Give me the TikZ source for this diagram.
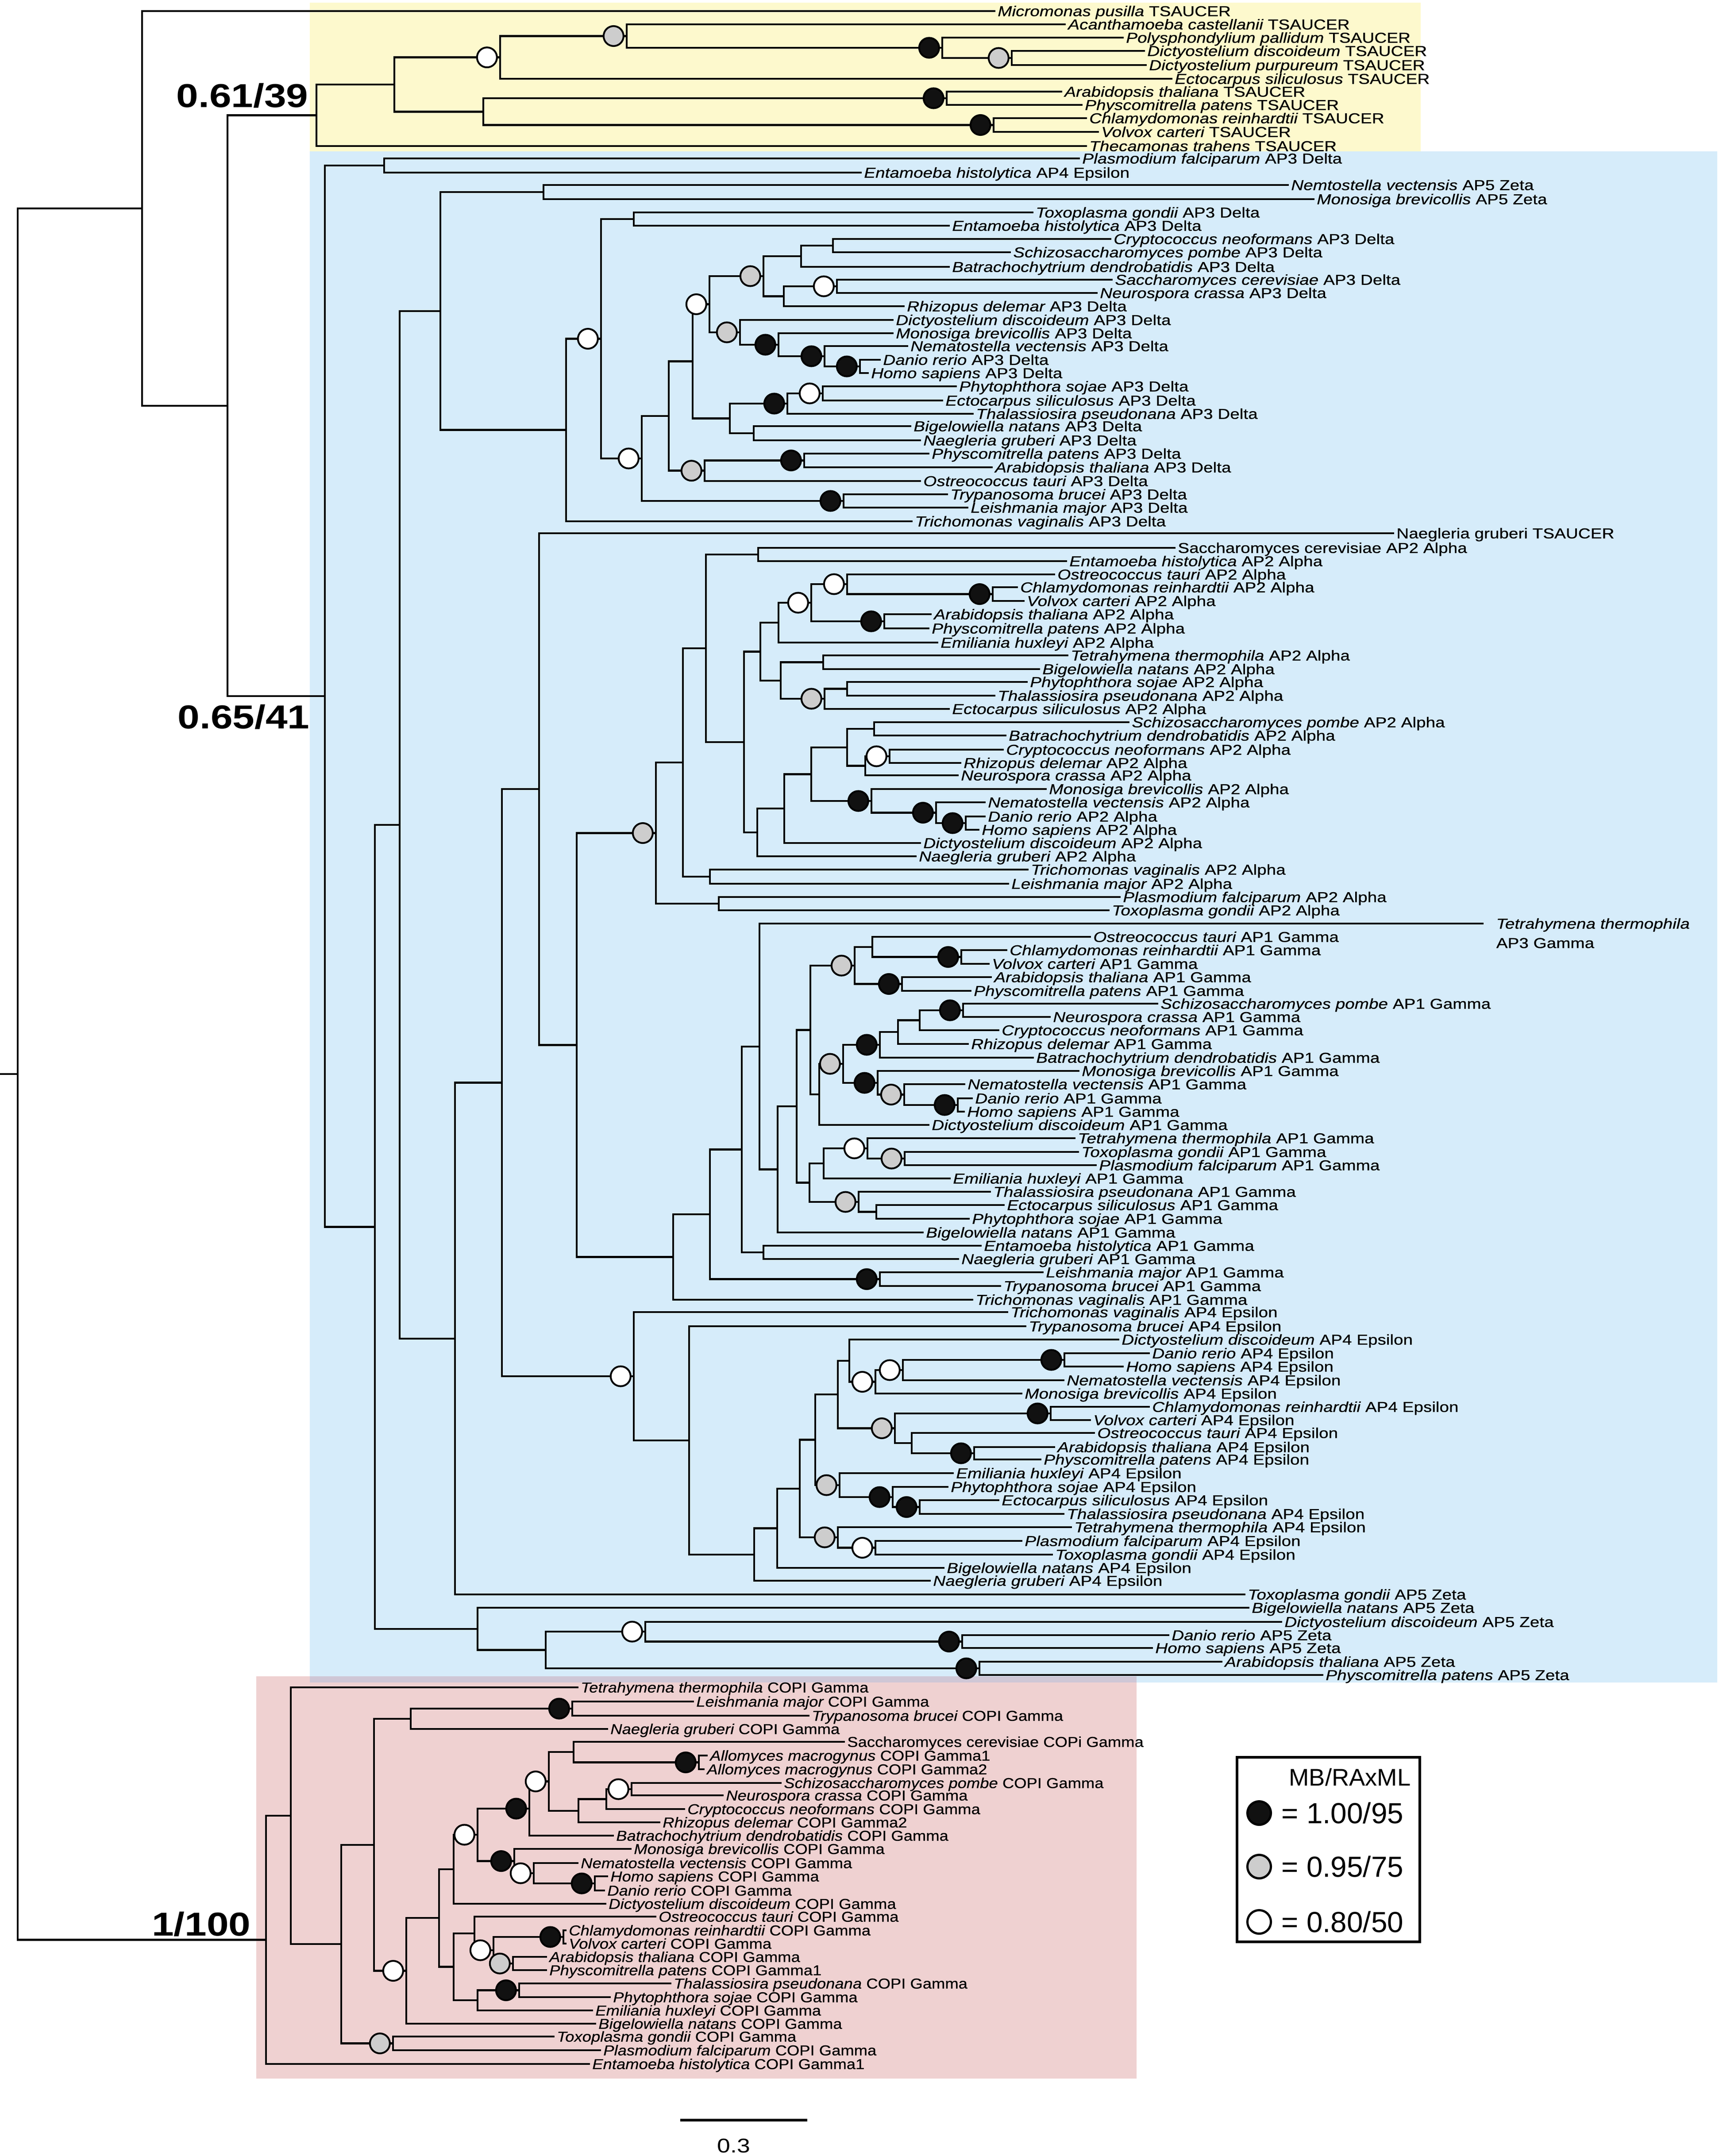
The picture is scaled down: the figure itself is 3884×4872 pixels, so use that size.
\documentclass[tikz,border=0pt]{standalone}
\usepackage{graphicx}
\usepackage{fontspec}
\setmainfont{Liberation Sans}
\newfontfamily\labf{Liberation Sans}[FakeBold=0.5]
\newfontfamily\labfi{Liberation Sans Italic}[FakeBold=0.5]
\newfontfamily\labb{Liberation Sans Bold}
\definecolor{ybg}{RGB}{253,249,205}
\definecolor{bbg}{RGB}{214,236,250}
\definecolor{pbg}{RGB}{239,209,209}
\definecolor{obg}{RGB}{207,199,214}
\definecolor{sgray}{RGB}{205,205,205}
\definecolor{sblack}{RGB}{17,17,17}
\tikzset{
  branch/.style={line width=1.5pt},
  leaf/.style={anchor=base west, inner sep=0pt, xshift=1.5pt, yshift=-3.7pt, font=\labf\fontsize{10.4}{12}\selectfont},
  supb/.style={circle, draw=black, line width=1.3pt, fill=sblack, minimum size=14.4pt, inner sep=0pt},
  supg/.style={supb, fill=sgray},
  supw/.style={supb, fill=white},
  boldlab/.style={anchor=base east, inner sep=0pt, font=\labb\fontsize{24}{28}\selectfont},
  legc/.style={circle, draw=black, line width=1.6pt, minimum size=17pt, inner sep=0pt},
  legt/.style={anchor=base west, inner sep=0pt, font=\fontsize{21}{25}\selectfont},
}
\newcommand\sxa{1.19}
\newcommand\sxc{1.12}
\newcommand\nd[3]{\coordinate (#1) at (#2,#3);}
\newcommand\lf[5]{\coordinate (#1) at (#2,#3);\node[leaf] (t#1) at (#1) {\scalebox{\sxa}[1]{{\labfi #4} #5}};}
\newcommand\lfu[4]{\coordinate (#1) at (#2,#3);\node[leaf] (t#1) at (#1) {\scalebox{\sxa}[1]{#4}};}
\newcommand\lfc[5]{\coordinate (#1) at (#2,#3);\node[leaf] (t#1) at (#1) {\scalebox{\sxc}[1]{{\labfi #4} #5}};}
\newcommand\lfcu[4]{\coordinate (#1) at (#2,#3);\node[leaf] (t#1) at (#1) {\scalebox{\sxc}[1]{#4}};}
\newcommand\br[2]{\foreach \kid in {#2}{\draw[branch] (#1) |- (\kid);}}
\newcommand\sW[1]{\foreach \nn in {#1}{\node[supw] (c\nn) at ([xshift=-9.5pt]\nn) {};}}
\newcommand\sG[1]{\foreach \nn in {#1}{\node[supg] (c\nn) at ([xshift=-9.5pt]\nn) {};}}
\newcommand\sB[1]{\foreach \nn in {#1}{\node[supb] (c\nn) at ([xshift=-9.5pt]\nn) {};}}
\begin{document}
\begin{tikzpicture}[x=0.32pt,y=-0.32pt]
\useasboundingbox (0,0) rectangle (3884,4872);
\fill[white] (0,0) rectangle (3884,4872);
% background boxes
\fill[ybg] (700,6) rectangle (3210,344);
\fill[bbg] (700,342) rectangle (3880,3802);
\fill[pbg] (579,3788) rectangle (2568,4697);
\fill[obg] (700,3788) rectangle (2568,3802);
% ---------- leaves: TSAUCER ----------
\lf{Lmicro}{2249}{25}{Micromonas pusilla}{TSAUCER}
\lf{Lacan}{2408}{55}{Acanthamoeba castellanii}{TSAUCER}
\lf{Lpoly}{2539}{85}{Polysphondylium pallidum}{TSAUCER}
\lf{Lddist}{2587}{115}{Dictyostelium discoideum}{TSAUCER}
\lf{Ldpur}{2591}{147}{Dictyostelium purpureum}{TSAUCER}
\lf{Lectot}{2649}{178}{Ectocarpus siliculosus}{TSAUCER}
\lf{Larat}{2400}{207}{Arabidopsis thaliana}{TSAUCER}
\lf{Lphyt}{2446}{237}{Physcomitrella patens}{TSAUCER}
\lf{Lchlt}{2456}{267}{Chlamydomonas reinhardtii}{TSAUCER}
\lf{Lvolt}{2483}{298}{Volvox carteri}{TSAUCER}
\lf{Lthec}{2456}{330}{Thecamonas trahens}{TSAUCER}
% ---------- AP3 delta region ----------
\lf{Lpf3d}{2440}{358}{Plasmodium falciparum}{AP3 Delta}
\lf{Leh4e}{1947}{390}{Entamoeba histolytica}{AP4 Epsilon}
\lf{Lnv5z}{2912}{418}{Nemtostella vectensis}{AP5 Zeta}
\lf{Lmb5z}{2970}{450}{Monosiga brevicollis}{AP5 Zeta}
\lf{Ltg3d}{2335}{480}{Toxoplasma gondii}{AP3 Delta}
\lf{Leh3d}{2146}{510}{Entamoeba histolytica}{AP3 Delta}
\lf{Lcn3d}{2511}{540}{Cryptococcus neoformans}{AP3 Delta}
\lf{Lsp3d}{2284}{570}{Schizosaccharomyces pombe}{AP3 Delta}
\lf{Lbd3d}{2146}{603}{Batrachochytrium dendrobatidis}{AP3 Delta}
\lf{Lsc3d}{2514}{632}{Saccharomyces cerevisiae}{AP3 Delta}
\lf{Lnc3d}{2480}{662}{Neurospora crassa}{AP3 Delta}
\lf{Lrd3d}{2044}{692}{Rhizopus delemar}{AP3 Delta}
\lf{Ldd3d}{2019}{723}{Dictyostelium discoideum}{AP3 Delta}
\lf{Lmb3d}{2019}{753}{Monosiga brevicollis}{AP3 Delta}
\lf{Lnv3d}{2052}{782}{Nematostella vectensis}{AP3 Delta}
\lf{Ldr3d}{1990}{813}{Danio rerio}{AP3 Delta}
\lf{Lhs3d}{1963}{843}{Homo sapiens}{AP3 Delta}
\lf{Lps3d}{2162}{873}{Phytophthora sojae}{AP3 Delta}
\lf{Les3d}{2131}{905}{Ectocarpus siliculosus}{AP3 Delta}
\lf{Ltp3d}{2200}{935}{Thalassiosira pseudonana}{AP3 Delta}
\lf{Lbn3d}{2059}{963}{Bigelowiella natans}{AP3 Delta}
\lf{Lng3d}{2081}{995}{Naegleria gruberi}{AP3 Delta}
\lf{Lpp3d}{2100}{1025}{Physcomitrella patens}{AP3 Delta}
\lf{Lat3d}{2243}{1056}{Arabidopsis thaliana}{AP3 Delta}
\lf{Lot3d}{2081}{1087}{Ostreococcus tauri}{AP3 Delta}
\lf{Ltb3d}{2142}{1117}{Trypanosoma brucei}{AP3 Delta}
\lf{Llm3d}{2188}{1147}{Leishmania major}{AP3 Delta}
\lf{Ltv3d}{2062}{1178}{Trichomonas vaginalis}{AP3 Delta}
% ---------- AP2 alpha region ----------
\lfu{Lngts}{3150}{1205}{Naegleria gruberi TSAUCER}
\lfu{Lsc2a}{2656}{1238}{Saccharomyces cerevisiae AP2 Alpha}
\lf{Leh2a}{2411}{1268}{Entamoeba histolytica}{AP2 Alpha}
\lf{Lot2a}{2384}{1298}{Ostreococcus tauri}{AP2 Alpha}
\lf{Lcr2a}{2300}{1327}{Chlamydomonas reinhardtii}{AP2 Alpha}
\lf{Lvc2a}{2315}{1358}{Volvox carteri}{AP2 Alpha}
\lf{Lat2a}{2105}{1388}{Arabidopsis thaliana}{AP2 Alpha}
\lf{Lpp2a}{2100}{1420}{Physcomitrella patens}{AP2 Alpha}
\lf{Leu2a}{2120}{1452}{Emiliania huxleyi}{AP2 Alpha}
\lf{Ltt2a}{2414}{1481}{Tetrahymena thermophila}{AP2 Alpha}
\lf{Lbn2a}{2350}{1512}{Bigelowiella natans}{AP2 Alpha}
\lf{Lps2a}{2322}{1541}{Phytophthora sojae}{AP2 Alpha}
\lf{Ltp2a}{2249}{1572}{Thalassiosira pseudonana}{AP2 Alpha}
\lf{Les2a}{2146}{1602}{Ectocarpus siliculosus}{AP2 Alpha}
\lf{Lsp2a}{2552}{1632}{Schizosaccharomyces pombe}{AP2 Alpha}
\lf{Lbd2a}{2274}{1662}{Batrachochytrium dendrobatidis}{AP2 Alpha}
\lf{Lcn2a}{2268}{1694}{Cryptococcus neoformans}{AP2 Alpha}
\lf{Lrd2a}{2172}{1724}{Rhizopus delemar}{AP2 Alpha}
\lf{Lnc2a}{2166}{1752}{Neurospora crassa}{AP2 Alpha}
\lf{Lmb2a}{2365}{1783}{Monosiga brevicollis}{AP2 Alpha}
\lf{Lnv2a}{2227}{1813}{Nematostella vectensis}{AP2 Alpha}
\lf{Ldr2a}{2227}{1845}{Danio rerio}{AP2 Alpha}
\lf{Lhs2a}{2213}{1875}{Homo sapiens}{AP2 Alpha}
\lf{Ldd2a}{2081}{1905}{Dictyostelium discoideum}{AP2 Alpha}
\lf{Lng2a}{2071}{1935}{Naegleria gruberi}{AP2 Alpha}
\lf{Ltv2a}{2324}{1965}{Trichomonas vaginalis}{AP2 Alpha}
\lf{Llm2a}{2280}{1997}{Leishmania major}{AP2 Alpha}
\lf{Lpf2a}{2532}{2027}{Plasmodium falciparum}{AP2 Alpha}
\lf{Ltg2a}{2507}{2057}{Toxoplasma gondii}{AP2 Alpha}
% ---------- AP1 gamma region ----------
\coordinate (Ltt3g) at (3352,2087);
\node[leaf, xshift=7.5pt] (tLtt3g) at (Ltt3g) {\scalebox{\sxa}[1]{\labfi Tetrahymena thermophila}};
\node[leaf, xshift=7.5pt, yshift=-14pt] (tLtt3gb) at (Ltt3g) {\scalebox{\sxa}[1]{AP3 Gamma}};
\lf{Lot1g}{2465}{2117}{Ostreococcus tauri}{AP1 Gamma}
\lf{Lcr1g}{2276}{2147}{Chlamydomonas reinhardtii}{AP1 Gamma}
\lf{Lvc1g}{2236}{2178}{Volvox carteri}{AP1 Gamma}
\lf{Lat1g}{2241}{2208}{Arabidopsis thaliana}{AP1 Gamma}
\lf{Lpp1g}{2195}{2239}{Physcomitrella patens}{AP1 Gamma}
\lf{Lsp1g}{2617}{2268}{Schizosaccharomyces pombe}{AP1 Gamma}
\lf{Lnc1g}{2374}{2298}{Neurospora crassa}{AP1 Gamma}
\lf{Lcn1g}{2258}{2328}{Cryptococcus neoformans}{AP1 Gamma}
\lf{Lrd1g}{2189}{2359}{Rhizopus delemar}{AP1 Gamma}
\lf{Lbd1g}{2336}{2390}{Batrachochytrium dendrobatidis}{AP1 Gamma}
\lf{Lmb1g}{2439}{2420}{Monosiga brevicollis}{AP1 Gamma}
\lf{Lnv1g}{2181}{2450}{Nematostella vectensis}{AP1 Gamma}
\lf{Ldr1g}{2198}{2482}{Danio rerio}{AP1 Gamma}
\lf{Lhs1g}{2180}{2512}{Homo sapiens}{AP1 Gamma}
\lf{Ldd1g}{2100}{2542}{Dictyostelium discoideum}{AP1 Gamma}
\lf{Ltt1g}{2430}{2572}{Tetrahymena thermophila}{AP1 Gamma}
\lf{Ltg1g}{2438}{2603}{Toxoplasma gondii}{AP1 Gamma}
\lf{Lpf1g}{2478}{2633}{Plasmodium falciparum}{AP1 Gamma}
\lf{Leu1g}{2148}{2663}{Emiliania huxleyi}{AP1 Gamma}
\lf{Ltp1g}{2239}{2693}{Thalassiosira pseudonana}{AP1 Gamma}
\lf{Les1g}{2270}{2723}{Ectocarpus siliculosus}{AP1 Gamma}
\lf{Lps1g}{2191}{2754}{Phytophthora sojae}{AP1 Gamma}
\lf{Lbn1g}{2087}{2785}{Bigelowiella natans}{AP1 Gamma}
\lf{Leh1g}{2218}{2815}{Entamoeba histolytica}{AP1 Gamma}
\lf{Lng1g}{2167}{2845}{Naegleria gruberi}{AP1 Gamma}
\lf{Llm1g}{2358}{2875}{Leishmania major}{AP1 Gamma}
\lf{Ltb1g}{2262}{2906}{Trypanosoma brucei}{AP1 Gamma}
\lf{Ltv1g}{2199}{2937}{Trichomonas vaginalis}{AP1 Gamma}
% ---------- AP4 epsilon / AP5 zeta ----------
\lf{Ltv4e}{2278}{2965}{Trichomonas vaginalis}{AP4 Epsilon}
\lf{Ltb4e}{2319}{2997}{Trypanosoma brucei}{AP4 Epsilon}
\lf{Ldd4e}{2529}{3027}{Dictyostelium discoideum}{AP4 Epsilon}
\lf{Ldr4e}{2598}{3058}{Danio rerio}{AP4 Epsilon}
\lf{Lhs4e}{2539}{3088}{Homo sapiens}{AP4 Epsilon}
\lf{Lnv4e}{2405}{3119}{Nematostella vectensis}{AP4 Epsilon}
\lf{Lmb4e}{2310}{3149}{Monosiga brevicollis}{AP4 Epsilon}
\lf{Lcr4e}{2598}{3179}{Chlamydomonas reinhardtii}{AP4 Epsilon}
\lf{Lvc4e}{2465}{3209}{Volvox carteri}{AP4 Epsilon}
\lf{Lot4e}{2474}{3238}{Ostreococcus tauri}{AP4 Epsilon}
\lf{Lat4e}{2384}{3270}{Arabidopsis thaliana}{AP4 Epsilon}
\lf{Lpp4e}{2353}{3298}{Physcomitrella patens}{AP4 Epsilon}
\lf{Leu4e}{2155}{3329}{Emiliania huxleyi}{AP4 Epsilon}
\lf{Lps4e}{2143}{3360}{Phytophthora sojae}{AP4 Epsilon}
\lf{Les4e}{2258}{3390}{Ectocarpus siliculosus}{AP4 Epsilon}
\lf{Ltp4e}{2405}{3421}{Thalassiosira pseudonana}{AP4 Epsilon}
\lf{Ltt4e}{2422}{3451}{Tetrahymena thermophila}{AP4 Epsilon}
\lf{Lpf4e}{2310}{3482}{Plasmodium falciparum}{AP4 Epsilon}
\lf{Ltg4e}{2379}{3513}{Toxoplasma gondii}{AP4 Epsilon}
\lf{Lbn4e}{2134}{3543}{Bigelowiella natans}{AP4 Epsilon}
\lf{Lng4e}{2103}{3572}{Naegleria gruberi}{AP4 Epsilon}
\lf{Ltg5z}{2814}{3603}{Toxoplasma gondii}{AP5 Zeta}
\lf{Lbn5z}{2823}{3633}{Bigelowiella natans}{AP5 Zeta}
\lf{Ldd5z}{2897}{3665}{Dictyostelium discoideum}{AP5 Zeta}
\lf{Ldr5z}{2642}{3695}{Danio rerio}{AP5 Zeta}
\lf{Lhs5z}{2605}{3724}{Homo sapiens}{AP5 Zeta}
\lf{Lat5z}{2762}{3755}{Arabidopsis thaliana}{AP5 Zeta}
\lf{Lpp5z}{2990}{3785}{Physcomitrella patens}{AP5 Zeta}
% ---------- COPI gamma ----------
\lfc{Ltt0}{1307}{3813}{Tetrahymena thermophila}{COPI Gamma}
\lfc{Llm0}{1568}{3845}{Leishmania major}{COPI Gamma}
\lfc{Ltb0}{1829}{3877}{Trypanosoma brucei}{COPI Gamma}
\lfc{Lng0}{1374}{3907}{Naegleria gruberi}{COPI Gamma}
\lfcu{Lsc0}{1909}{3936}{Saccharomyces cerevisiae COPi Gamma}
\lfc{Lam1}{1599}{3967}{Allomyces macrogynus}{COPI Gamma1}
\lfc{Lam2}{1592}{3998}{Allomyces macrogynus}{COPI Gamma2}
\lfc{Lsp0}{1766}{4029}{Schizosaccharomyces pombe}{COPI Gamma}
\lfc{Lnc0}{1635}{4057}{Neurospora crassa}{COPI Gamma}
\lfc{Lcn0}{1548}{4088}{Cryptococcus neoformans}{COPI Gamma}
\lfc{Lrd0}{1492}{4118}{Rhizopus delemar}{COPI Gamma2}
\lfc{Lbd0}{1387}{4148}{Batrachochytrium dendrobatidis}{COPI Gamma}
\lfc{Lmb0}{1427}{4178}{Monosiga brevicollis}{COPI Gamma}
\lfc{Lnv0}{1307}{4210}{Nematostella vectensis}{COPI Gamma}
\lfc{Lhs0}{1374}{4240}{Homo sapiens}{COPI Gamma}
\lfc{Ldr0}{1367}{4272}{Danio rerio}{COPI Gamma}
\lfc{Ldd0}{1370}{4302}{Dictyostelium discoideum}{COPI Gamma}
\lfc{Lot0}{1483}{4331}{Ostreococcus tauri}{COPI Gamma}
\lfc{Lcr0}{1280}{4362}{Chlamydomonas reinhardtii}{COPI Gamma}
\lfc{Lvc0}{1280}{4392}{Volvox carteri}{COPI Gamma}
\lfc{Lat0}{1236}{4422}{Arabidopsis thaliana}{COPI Gamma}
\lfc{Lpp0}{1236}{4452}{Physcomitrella patens}{COPI Gamma1}
\lfc{Ltp0}{1517}{4482}{Thalassiosira pseudonana}{COPI Gamma}
\lfc{Lps0}{1380}{4513}{Phytophthora sojae}{COPI Gamma}
\lfc{Leu0}{1340}{4543}{Emiliania huxleyi}{COPI Gamma}
\lfc{Lbn0}{1347}{4573}{Bigelowiella natans}{COPI Gamma}
\lfc{Ltg0}{1253}{4602}{Toxoplasma gondii}{COPI Gamma}
\lfc{Lpf0}{1358}{4633}{Plasmodium falciparum}{COPI Gamma}
\lfc{Leh0}{1333}{4664}{Entamoeba histolytica}{COPI Gamma1}
% ---------- internal nodes ----------
\nd{RS}{0}{2427}\nd{RT}{40}{2427}
\nd{A}{321}{471}\nd{B}{514}{917}\nd{C}{715}{260.5}\nd{C1}{891}{191}
\nd{C2}{1130}{129.7}\nd{C4}{1416}{81.5}\nd{C5}{2129}{108}\nd{C6}{2286}{131}
\nd{C3}{1092}{252.3}\nd{C7}{2139}{222}\nd{C8}{2245}{282.5}
\nd{D}{734}{1573}\nd{E}{868}{374}\nd{F}{847}{2772.5}\nd{G}{903}{1864}
\nd{H}{995}{703}\nd{H1}{1228}{434}\nd{J}{1279}{971.7}\nd{K}{1358}{765.5}
\nd{K1}{1432}{495}\nd{L}{1450}{1036}\nd{M}{1511}{940}\nd{N}{1565}{816.5}
\nd{P}{1603}{687.5}\nd{R}{1725}{624}\nd{R1}{1810}{579}\nd{R1a}{1882}{555}
\nd{R2}{1771}{669.5}\nd{R2a}{1891}{647}\nd{S}{1672}{751}\nd{T}{1759}{779}
\nd{U}{1863}{805}\nd{V}{1943}{828}\nd{Q}{1649}{945.5}\nd{Q1}{1779}{912}
\nd{Q1a}{1859}{889}\nd{Q2}{1703}{979}\nd{O}{1592}{1063.7}\nd{O1}{1817}{1040.5}
\nd{LT}{1906}{1132}
\nd{I}{1028}{3025}\nd{Y}{1134}{2446.5}\nd{W}{1218}{1783}\nd{X}{1303}{2361.5}
\nd{AA}{1482}{1882.5}\nd{AC}{1543}{1723}\nd{AE}{1595}{1465}\nd{AG}{1713}{1253}
\nd{AH}{1681}{1677}\nd{AI}{1718}{1472.5}\nd{AT}{1759}{1407}\nd{AV}{1833}{1362}
\nd{AW}{1914}{1320}\nd{AY}{2243}{1342.5}\nd{AX}{1998}{1404}\nd{AU}{1764}{1538}
\nd{AZ}{1860}{1496.5}\nd{BA}{1863}{1579}\nd{BB}{1914}{1556.5}\nd{AJ}{1711}{1881}
\nd{AK}{1772}{1827}\nd{AL}{1833}{1749.5}\nd{AM}{1914}{1689}\nd{AO}{1975}{1647}
\nd{AP}{1955}{1730.5}\nd{AQ}{2010}{1709}\nd{AN}{1969}{1810}\nd{AR}{2115}{1836.5}
\nd{AS}{2182}{1860}\nd{AF}{1604}{1981}\nd{AD}{1624}{2042}
\nd{AB}{1521}{2840.5}\nd{BC}{1604}{2744}\nd{BD}{1676}{2597.5}\nd{BG}{1716}{2365}
\nd{BH}{1757}{2642.5}\nd{BY}{1800}{2500}\nd{BX}{1831}{2327.5}\nd{BJ}{1931}{2182}
\nd{BK}{1971}{2140}\nd{BM}{2172}{2162.5}\nd{BL}{2038}{2223.5}\nd{BW}{1851}{2473}
\nd{BU}{1905}{2404}\nd{BQ}{1988}{2361}\nd{BP}{2029}{2332}\nd{BO}{2078}{2305.5}
\nd{BN}{2176}{2283}\nd{BT}{1983}{2447}\nd{BS}{2043}{2473.5}\nd{BR}{2164}{2497}
\nd{BZ}{1829}{2672.5}\nd{CA}{1861}{2629}\nd{CD}{1960}{2595}\nd{CC}{2044}{2618}
\nd{CB}{1940}{2716}\nd{CE}{1980}{2738.5}\nd{BF}{1725}{2830}\nd{BE}{1988}{2890.5}
\nd{Z}{1432}{3110}\nd{CF}{1557}{3255}\nd{CG}{1704}{3513}\nd{CH}{1756}{3453.5}
\nd{CI}{1807}{3364}\nd{CJ}{1842}{3253.5}\nd{CM}{1893}{3151}\nd{CQ}{1919}{3075}
\nd{CS}{1978}{3122.5}\nd{CT}{2040}{3096}\nd{CU}{2405}{3073}\nd{CR}{2022}{3227.5}
\nd{CV}{2374}{3194}\nd{CW}{2060}{3261}\nd{CX}{2201}{3284}\nd{CN}{1897}{3356}
\nd{CO}{2017}{3383}\nd{CP}{2078}{3405.5}\nd{CK}{1893}{3474}\nd{CL}{1978}{3497.5}
\nd{CY}{1079}{3681}\nd{CZ}{1233}{3728.5}\nd{DA}{1458}{3687}\nd{DC}{2174}{3709.5}
\nd{DB}{2213}{3770}
\nd{EE}{601}{4383.5}\nd{ED}{657}{4103}\nd{EB}{771}{4393}\nd{EA}{845}{4169}
\nd{DE}{928}{3884}\nd{DD}{1293}{3861}\nd{DZ}{918}{4453.5}\nd{DY}{992}{4334}
\nd{DQ}{1025}{4224}\nd{DP}{1079}{4146}\nd{DL}{1196}{4087}\nd{DK}{1240}{4025.5}
\nd{DG}{1296}{3959}\nd{DF}{1579}{3982.5}\nd{DJ}{1307}{4092}\nd{DI}{1370}{4065.5}
\nd{DH}{1427}{4043}\nd{DO}{1162}{4205.5}\nd{DN}{1206}{4233}\nd{DM}{1344}{4256}
\nd{DX}{1025}{4444.5}\nd{DU}{1072}{4369}\nd{DT}{1115}{4407}\nd{DR}{1273}{4377}
\nd{DS}{1159}{4437}\nd{DW}{1079}{4520}\nd{DV}{1173}{4497.5}\nd{EC}{888}{4617.5}
% ---------- branches ----------
\draw[branch] (RS) -- (RT);
\br{RT}{A,EE}\br{A}{Lmicro,B}\br{B}{C,D}\br{C}{C1,Lthec}\br{C1}{C2,C3}
\br{C2}{C4,Lectot}\br{C4}{Lacan,C5}\br{C5}{Lpoly,C6}\br{C6}{Lddist,Ldpur}
\br{C3}{C7,C8}\br{C7}{Larat,Lphyt}\br{C8}{Lchlt,Lvolt}
\br{D}{E,F}\br{E}{Lpf3d,Leh4e}\br{F}{G,CY}\br{G}{H,I}\br{H}{H1,J}
\br{H1}{Lnv5z,Lmb5z}\br{J}{K,Ltv3d}\br{K}{K1,L}\br{K1}{Ltg3d,Leh3d}
\br{L}{M,LT}\br{M}{N,O}\br{N}{P,Q}\br{P}{R,S}\br{R}{R1,R2}
\br{R1}{R1a,Lbd3d}\br{R1a}{Lcn3d,Lsp3d}\br{R2}{R2a,Lrd3d}\br{R2a}{Lsc3d,Lnc3d}
\br{S}{Ldd3d,T}\br{T}{Lmb3d,U}\br{U}{Lnv3d,V}\br{V}{Ldr3d,Lhs3d}
\br{Q}{Q1,Q2}\br{Q1}{Q1a,Ltp3d}\br{Q1a}{Lps3d,Les3d}\br{Q2}{Lbn3d,Lng3d}
\br{O}{O1,Lot3d}\br{O1}{Lpp3d,Lat3d}\br{LT}{Ltb3d,Llm3d}
\br{I}{Y,Ltg5z}\br{Y}{W,Z}\br{W}{Lngts,X}\br{X}{AA,AB}
\br{AA}{AC,AD}\br{AC}{AE,AF}\br{AE}{AG,AH}\br{AG}{Lsc2a,Leh2a}
\br{AH}{AI,AJ}\br{AI}{AT,AU}\br{AT}{AV,Leu2a}\br{AV}{AW,AX}
\br{AW}{Lot2a,AY}\br{AY}{Lcr2a,Lvc2a}\br{AX}{Lat2a,Lpp2a}
\br{AU}{AZ,BA}\br{AZ}{Ltt2a,Lbn2a}\br{BA}{BB,Les2a}\br{BB}{Lps2a,Ltp2a}
\br{AJ}{AK,Lng2a}\br{AK}{AL,Ldd2a}\br{AL}{AM,AN}\br{AM}{AO,AP}
\br{AO}{Lsp2a,Lbd2a}\br{AP}{AQ,Lnc2a}\br{AQ}{Lcn2a,Lrd2a}
\br{AN}{Lmb2a,AR}\br{AR}{Lnv2a,AS}\br{AS}{Ldr2a,Lhs2a}
\br{AF}{Ltv2a,Llm2a}\br{AD}{Lpf2a,Ltg2a}
\br{AB}{BC,Ltv1g}\br{BC}{BD,BE}\br{BD}{BG,BF}\br{BG}{Ltt3g,BH}
\br{BH}{BY,Lbn1g}\br{BY}{BX,BZ}\br{BX}{BJ,BW}\br{BJ}{BK,BL}
\br{BK}{Lot1g,BM}\br{BM}{Lcr1g,Lvc1g}\br{BL}{Lat1g,Lpp1g}
\br{BW}{BU,Ldd1g}\br{BU}{BQ,BT}\br{BQ}{BP,Lbd1g}\br{BP}{BO,Lrd1g}
\br{BO}{BN,Lcn1g}\br{BN}{Lsp1g,Lnc1g}\br{BT}{Lmb1g,BS}\br{BS}{Lnv1g,BR}
\br{BR}{Ldr1g,Lhs1g}\br{BZ}{CA,CB}\br{CA}{CD,Leu1g}\br{CD}{Ltt1g,CC}
\br{CC}{Ltg1g,Lpf1g}\br{CB}{Ltp1g,CE}\br{CE}{Les1g,Lps1g}
\br{BF}{Leh1g,Lng1g}\br{BE}{Llm1g,Ltb1g}
\br{Z}{Ltv4e,CF}\br{CF}{Ltb4e,CG}\br{CG}{CH,Lng4e}\br{CH}{CI,Lbn4e}
\br{CI}{CJ,CK}\br{CJ}{CM,CN}\br{CM}{CQ,CR}\br{CQ}{Ldd4e,CS}
\br{CS}{CT,Lmb4e}\br{CT}{CU,Lnv4e}\br{CU}{Ldr4e,Lhs4e}\br{CR}{CV,CW}
\br{CV}{Lcr4e,Lvc4e}\br{CW}{Lot4e,CX}\br{CX}{Lat4e,Lpp4e}
\br{CN}{Leu4e,CO}\br{CO}{Lps4e,CP}\br{CP}{Les4e,Ltp4e}
\br{CK}{Ltt4e,CL}\br{CL}{Lpf4e,Ltg4e}
\br{CY}{Lbn5z,CZ}\br{CZ}{DA,DB}\br{DA}{Ldd5z,DC}\br{DC}{Ldr5z,Lhs5z}
\br{DB}{Lat5z,Lpp5z}
\br{EE}{ED,Leh0}\br{ED}{Ltt0,EB}\br{EB}{EA,EC}\br{EA}{DE,DZ}
\br{DE}{DD,Lng0}\br{DD}{Llm0,Ltb0}\br{DZ}{DY,Lbn0}\br{DY}{DQ,DX}
\br{DQ}{DP,Ldd0}\br{DP}{DL,DO}\br{DL}{DK,Lbd0}\br{DK}{DG,DJ}
\br{DG}{Lsc0,DF}\br{DF}{Lam1,Lam2}\br{DJ}{DI,Lrd0}\br{DI}{DH,Lcn0}
\br{DH}{Lsp0,Lnc0}\br{DO}{Lmb0,DN}\br{DN}{Lnv0,DM}\br{DM}{Lhs0,Ldr0}
\br{DX}{DU,DW}\br{DU}{Lot0,DT}\br{DT}{DR,DS}\br{DR}{Lcr0,Lvc0}
\br{DS}{Lat0,Lpp0}\br{DW}{DV,Leu0}\br{DV}{Ltp0,Lps0}\br{EC}{Ltg0,Lpf0}
% ---------- support circles ----------
\sW{C2,K,L,P,R2a,Q1a,AV,AW,AQ,CD,Z,CS,CT,CL,DA,DH,DK,DP,DN,DT,DZ}
\sG{C4,C6,R,S,O,AA,BA,BJ,BU,BS,CC,CB,CR,CN,CK,DS,EC}
\sB{C5,C7,C8,T,U,V,Q1,O1,LT,AY,AX,AN,AR,AS,BM,BL,BN,BQ,BT,BR,BE,CU,CV,CX,CO,CP,DC,DB,DD,DF,DL,DO,DM,DR,DV}
% ---------- clade support labels ----------
\node[boldlab] (s1) at (697,243) {\scalebox{1.19}[1]{0.61/39}};
\node[boldlab] (s2) at (700,1646) {\scalebox{1.19}[1]{0.65/41}};
\node[boldlab] (s3) at (567,4374) {\scalebox{1.19}[1]{1/100}};
% ---------- legend ----------
\node[draw=black, line width=2pt, minimum width=132pt, minimum height=133.4pt, inner sep=0pt] (leg) at (3001.5,4179.5) {};
\node[anchor=base east, inner sep=0pt, font=\fontsize{17.4}{20}\selectfont] (legh) at (3188,4035) {MB/RAxML};
\node[legc, fill=sblack] (lc1) at (2845,4097) {};
\node[legc, fill=sgray] (lc2) at (2845,4218) {};
\node[legc, fill=white] (lc3) at (2845,4343) {};
\node[legt] (lt1) at (2895,4120) {= 1.00/95};
\node[legt] (lt2) at (2895,4241) {= 0.95/75};
\node[legt] (lt3) at (2895,4366) {= 0.80/50};
% ---------- scale bar ----------
\coordinate (sb1) at (1537,4791);
\coordinate (sb2) at (1824,4791);
\draw[line width=2.2pt] (sb1) -- (sb2);
\node[inner sep=0pt, font=\fontsize{14.4}{16}\selectfont] (sbl) at (1658,4849) {\scalebox{1.19}[1]{0.3}};
\end{tikzpicture}
\end{document}
